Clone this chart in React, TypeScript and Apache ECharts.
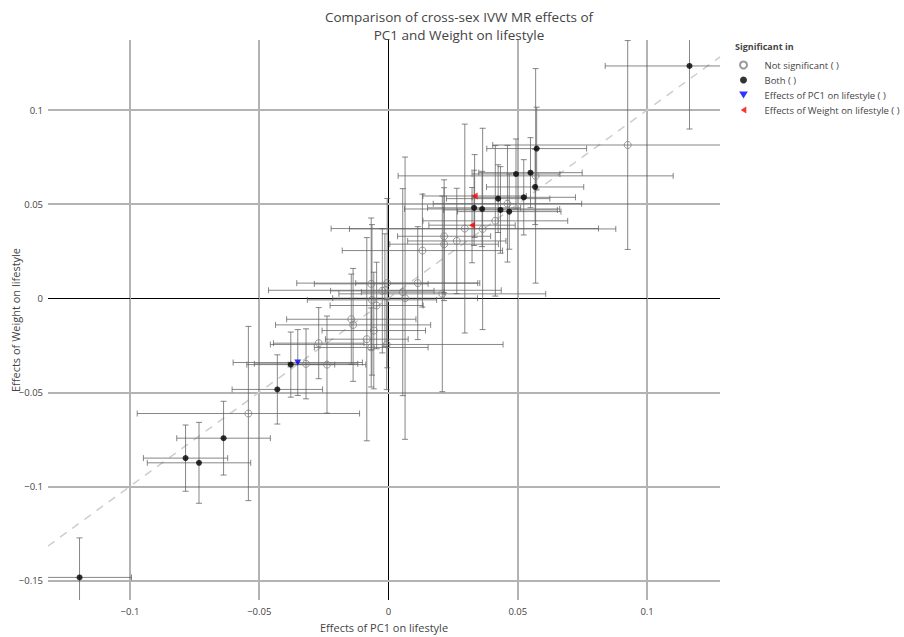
import React, { useEffect, useRef } from "react";
import * as echarts from "echarts";

// IVW MR estimates: effect of PC1 on lifestyle (x) and of Weight on lifestyle (y)
const effectPC1 = [
  0.1164, 0.0925, 0.0573, 0.0493, 0.0549, 0.0569, 0.0567, 0.0424, 0.0523, 0.0333,
  0.046, 0.0331, 0.0362, 0.0433, 0.0467, 0.0413, 0.0323, 0.0295, 0.0364, 0.0215,
  0.0215, 0.0264, 0.0131, -0.0067, -0.0005, 0.0113, -0.0024, -0.0014, 0.0055, 0.0064,
  0.0208, -0.0064, -0.0046, -0.0144, -0.0137, -0.0057, -0.0084, -0.0067, -0.0007, -0.027,
  -0.0378, -0.0351, -0.0319, -0.0238, -0.043, -0.0542, -0.0638, -0.0785, -0.0733, -0.1195,
];
const effectWeight = [
  0.1234, 0.0814, 0.0795, 0.066, 0.0667, 0.065, 0.0591, 0.0529, 0.0536, 0.0543,
  0.0502, 0.048, 0.0474, 0.0469, 0.046, 0.0411, 0.0388, 0.037, 0.0368, 0.0329,
  0.0287, 0.0304, 0.0253, 0.0076, 0.008, 0.008, 0.0039, 0.0042, 0.0032, 0.0,
  0.0023, -0.0009, -0.0039, -0.0112, -0.0142, -0.0172, -0.0218, -0.0262, -0.0246, -0.0239,
  -0.0353, -0.0342, -0.0349, -0.0353, -0.0485, -0.0613, -0.0744, -0.085, -0.0875, -0.1484,
];
// 95% CI half-widths
const ciPC1 = [
  0.0326, 0.0522, 0.0193, 0.017, 0.02, 0.0532, 0.0188, 0.02, 0.02, 0.02,
  0.0287, 0.018, 0.03, 0.022, 0.02, 0.028, 0.0167, 0.0517, 0.0515, 0.018,
  0.021, 0.019, 0.031, 0.022, 0.035, 0.024, 0.02, 0.045, 0.016, 0.028,
  0.04, 0.025, 0.018, 0.025, 0.03, 0.02, 0.016, 0.022, 0.045, 0.0175,
  0.017, 0.025, 0.02, 0.015, 0.0175, 0.043, 0.0181, 0.0163, 0.02, 0.0201,
];
const ciWeight = [
  0.0335, 0.0555, 0.022, 0.0186, 0.0186, 0.057, 0.02, 0.018, 0.02, 0.022,
  0.031, 0.02, 0.02, 0.023, 0.02, 0.04, 0.02, 0.0555, 0.0535, 0.03,
  0.03, 0.028, 0.03, 0.035, 0.045, 0.03, 0.033, 0.03, 0.055, 0.075,
  0.052, 0.04, 0.023, 0.024, 0.03, 0.031, 0.054, 0.021, 0.024, 0.0189,
  0.0173, 0.0175, 0.0186, 0.0258, 0.0184, 0.0463, 0.0196, 0.0176, 0.0215, 0.021,
];
// n = not significant, b = both, p = PC1 on lifestyle only, w = Weight on lifestyle only
const significance = [
  "b", "n", "b", "b", "b", "n", "b", "b", "b", "w",
  "n", "b", "b", "b", "b", "n", "w", "n", "n", "n",
  "n", "n", "n", "n", "n", "n", "n", "n", "n", "n",
  "n", "n", "n", "n", "n", "n", "n", "n", "n", "n",
  "b", "p", "n", "n", "b", "n", "b", "b", "b", "b",
];

const groupCodes = ["n", "b", "p", "w"];
const groupNames = [
  "Not significant ( )",
  "Both ( )",
  "Effects of PC1 on lifestyle ( )",
  "Effects of Weight on lifestyle ( )",
];

const xTicks = [-0.1, -0.05, 0, 0.05, 0.1];
const yTicks = [-0.15, -0.1, -0.05, 0, 0.05, 0.1];
const X_MIN = -0.1317;
const X_MAX = 0.1282;
const Y_MIN = -0.1604;
const Y_MAX = 0.1372;

const FONT = "'Open Sans', 'Noto Sans', sans-serif";
const TEXT = "#444";
const GRID = "#b3b3b3";

const fmt = (v: number) => String(+v.toFixed(4)).replace("-", "\u2212");

const groupStyles: Record<string, any> = {
  n: {
    symbol: "circle",
    symbolSize: 7,
    itemStyle: { color: "rgba(255,255,255,0)", borderColor: "#808080", borderWidth: 1 },
  },
  b: { symbol: "circle", symbolSize: 6, itemStyle: { color: "#000" } },
  p: { symbol: "path://M0,0L10,0L5,8Z", symbolSize: [7, 6], itemStyle: { color: "#0000ff" } },
  w: { symbol: "path://M8,0L8,10L0,5Z", symbolSize: [6, 7], itemStyle: { color: "#ff0000" } },
};

export default function App() {
  const ref = useRef<HTMLDivElement>(null);

  useEffect(() => {
    if (!ref.current) return;
    const chart = echarts.init(ref.current, undefined, { renderer: "svg" });

    const errorData = effectPC1.map((x, i) => [x, effectWeight[i], ciPC1[i], ciWeight[i]]);

    const gridLines = [
      ...xTicks.map((v) => ({
        xAxis: v,
        lineStyle: v === 0 ? { color: "#000", width: 1, type: "solid" } : { color: GRID, width: 2, type: "solid" },
      })),
      ...yTicks.map((v) => ({
        yAxis: v,
        lineStyle: v === 0 ? { color: "#000", width: 1, type: "solid" } : { color: GRID, width: 2, type: "solid" },
      })),
    ];

    const scatterSeries = groupCodes.map((code, gi) => ({
      name: groupNames[gi],
      type: "scatter",
      z: 4,
      ...groupStyles[code],
      data: effectPC1
        .map((x, i) => (significance[i] === code ? [x, effectWeight[i]] : null))
        .filter((d) => d !== null),
    }));

    chart.setOption({
      animation: false,
      backgroundColor: "#fff",
      textStyle: { fontFamily: FONT },
      grid: {
        left: 48,
        right: 184,
        top: 40,
        bottom: 37,
        containLabel: false,
        outerBoundsMode: "none",
      },
      graphic: [
        {
          type: "text",
          x: 459,
          y: 8,
          style: {
            text: "Comparison of cross-sex IVW MR effects of\nPC1 and Weight on lifestyle",
            textAlign: "center",
            font: `13.5px ${FONT}`,
            fill: TEXT,
            lineHeight: 18,
          },
        },
        {
          type: "text",
          x: 735,
          y: 42,
          style: { text: "Significant in", font: `bold 9px ${FONT}`, fill: TEXT },
        },
      ],
      legend: {
        orient: "vertical",
        left: 739,
        top: 60,
        padding: 0,
        itemWidth: 32,
        itemHeight: 7,
        itemGap: 5,
        data: groupNames,
        textStyle: { fontSize: 9.5, color: TEXT, fontFamily: FONT },
      },
      xAxis: {
        type: "value",
        min: X_MIN,
        max: X_MAX,
        name: "Effects of PC1 on lifestyle",
        nameLocation: "middle",
        nameGap: 22,
        nameMoveOverlap: false,
        nameTextStyle: { fontSize: 11, color: TEXT, fontFamily: FONT },
        axisLine: { show: false },
        splitLine: { show: false },
        axisTick: { show: true, length: 4, lineStyle: { color: GRID }, customValues: xTicks },
        axisLabel: {
          customValues: xTicks,
          formatter: fmt,
          fontSize: 9.5,
          color: TEXT,
          fontFamily: FONT,
          margin: 6,
        },
      },
      yAxis: {
        type: "value",
        min: Y_MIN,
        max: Y_MAX,
        name: "Effects of Weight on lifestyle",
        nameLocation: "middle",
        nameGap: 27,
        nameMoveOverlap: false,
        nameTextStyle: { fontSize: 11, color: TEXT, fontFamily: FONT },
        axisLine: { show: false },
        splitLine: { show: false },
        axisTick: { show: true, length: 4, lineStyle: { color: GRID }, customValues: yTicks },
        axisLabel: {
          customValues: yTicks,
          formatter: fmt,
          fontSize: 9.5,
          color: TEXT,
          fontFamily: FONT,
          margin: 5,
        },
      },
      series: [
        {
          // grid lines and the identity line
          type: "line",
          z: 1,
          silent: true,
          symbol: "none",
          data: [
            [X_MIN, X_MIN],
            [X_MAX, X_MAX],
          ],
          lineStyle: { color: "#cdcdcd", width: 1.5, type: [8, 7] },
          markLine: {
            silent: true,
            symbol: "none",
            label: { show: false },
            data: gridLines,
            z: 0,
          },
        },
        {
          type: "custom",
          z: 3,
          clip: true,
          silent: true,
          data: errorData,
          encode: { x: 0, y: 1 },
          renderItem: (_params: any, api: any) => {
            const x = api.value(0);
            const y = api.value(1);
            const ex = api.value(2);
            const ey = api.value(3);
            const c = api.coord([x, y]);
            const l = api.coord([x - ex, y]);
            const r = api.coord([x + ex, y]);
            const t = api.coord([x, y + ey]);
            const b = api.coord([x, y - ey]);
            const cap = 3;
            const style = { stroke: "rgba(95,95,95,0.75)", lineWidth: 1, fill: "none" };
            const seg = (x1: number, y1: number, x2: number, y2: number) => ({
              type: "line",
              shape: { x1, y1, x2, y2 },
              style,
            });
            return {
              type: "group",
              children: [
                seg(l[0], c[1], r[0], c[1]),
                seg(l[0], c[1] - cap, l[0], c[1] + cap),
                seg(r[0], c[1] - cap, r[0], c[1] + cap),
                seg(c[0], t[1], c[0], b[1]),
                seg(c[0] - cap, t[1], c[0] + cap, t[1]),
                seg(c[0] - cap, b[1], c[0] + cap, b[1]),
              ],
            };
          },
        },
        ...scatterSeries,
      ],
    });

    return () => chart.dispose();
  }, []);

  return <div ref={ref} style={{ width: 904, height: 637, position: "absolute", left: 0, top: 0 }} />;
}
